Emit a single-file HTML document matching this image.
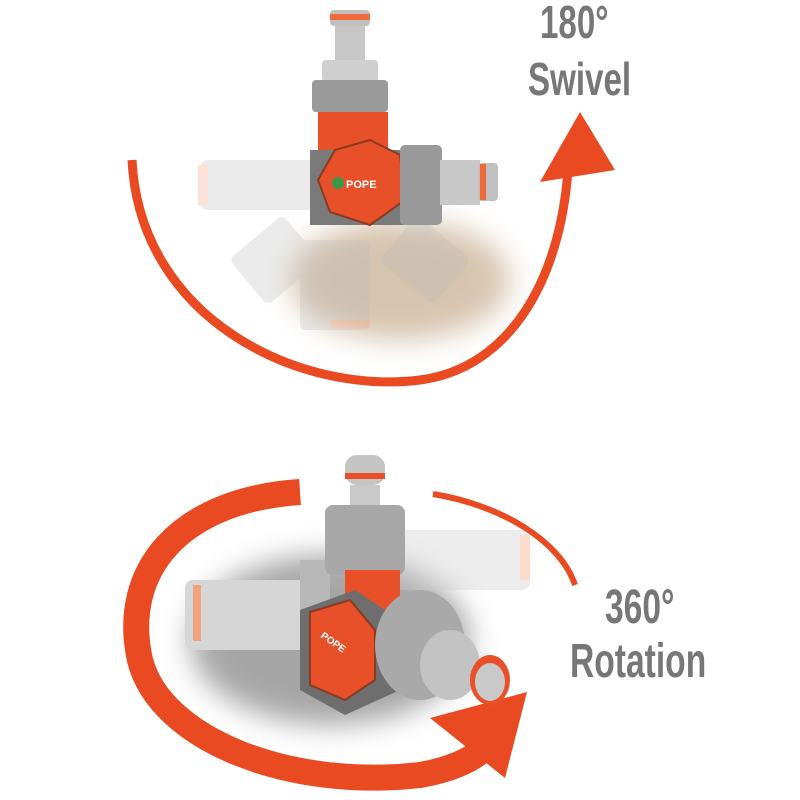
<!DOCTYPE html>
<html><head><style>
body{margin:0;background:#fff;}
svg{display:block}
text{font-family:"Liberation Sans",sans-serif;fill:#777;}
</style></head><body>
<svg width="800" height="800" viewBox="0 0 800 800">
<defs>
<filter id="b" x="-50%" y="-50%" width="200%" height="200%"><feGaussianBlur stdDeviation="14"/></filter>
</defs>
<rect width="800" height="800" fill="#fff"/>
<!-- TOP -->
<text x="540" y="38" font-size="46" font-weight="bold" transform="scale(0.72,1)" transform-origin="540 38">180°</text>
<text x="528" y="95" font-size="46" font-weight="bold" transform="scale(0.72,1)" transform-origin="528 95">Swivel</text>
<path d="M132 160 C 140 320, 300 395, 420 380 C 510 368, 560 280, 568 170" fill="none" stroke="#ea4a22" stroke-width="9"/>
<polygon points="580,112 615,170 540,182" fill="#ea4a22"/>
<ellipse cx="400" cy="280" rx="110" ry="60" fill="#b08a60" opacity="0.5" filter="url(#b)"/>
<g opacity="0.28" fill="#bbb">
<rect x="200" y="160" width="120" height="50" rx="8"/>
<rect x="300" y="240" width="70" height="90" rx="6"/>
<rect x="240" y="230" width="70" height="60" rx="6" transform="rotate(-40 275 260)"/>
<rect x="390" y="230" width="70" height="60" rx="6" transform="rotate(40 425 260)"/>
<rect x="198" y="165" width="10" height="40" fill="#f59a70"/>
<rect x="330" y="320" width="40" height="8" fill="#f59a70"/>
</g>
<rect x="330" y="10" width="40" height="16" rx="4" fill="#bfbfbf"/>
<rect x="330" y="14" width="40" height="6" fill="#ef6a3a"/>
<rect x="335" y="26" width="30" height="40" fill="#c7c7c7"/>
<rect x="322" y="60" width="56" height="22" rx="4" fill="#cfcfcf"/>
<rect x="312" y="80" width="76" height="32" rx="4" fill="#9a9a9a"/>
<rect x="318" y="112" width="70" height="50" fill="#e8502a"/>
<rect x="310" y="150" width="110" height="75" fill="#7a7a7a"/>
<polygon points="335,150 370,140 400,155 405,200 370,225 330,212 318,180" fill="#e8502a" stroke="#8a3a20" stroke-width="2"/>
<circle cx="338" cy="183" r="6" fill="#3a9a4a"/>
<text x="346" y="188" font-size="11" font-weight="bold" style="fill:#fff">POPE</text>
<rect x="400" y="145" width="42" height="80" rx="5" fill="#999"/>
<rect x="440" y="160" width="40" height="45" fill="#c8c8c8"/>
<rect x="478" y="163" width="20" height="38" rx="4" fill="#c0c0c0"/>
<rect x="480" y="164" width="6" height="36" fill="#ef6a3a"/>
<!-- BOTTOM -->
<ellipse cx="330" cy="640" rx="140" ry="85" fill="#888" opacity="0.75" filter="url(#b)"/>
<path d="M300 492 C 180 500, 120 570, 140 660 C 160 740, 290 790, 420 775 C 450 770, 470 760, 480 752" fill="none" stroke="#ea4a22" stroke-width="26"/>
<path d="M433 494 C 500 505, 560 540, 575 585" fill="none" stroke="#ea4a22" stroke-width="6"/>
<polygon points="527,692 430,718 505,778" fill="#ea4a22"/>
<g opacity="0.35" fill="#ccc"><rect x="380" y="530" width="150" height="60" rx="8"/><rect x="520" y="535" width="10" height="45" fill="#f59a70"/></g>
<rect x="185" y="580" width="130" height="70" rx="8" fill="#d6d6d6"/>
<rect x="193" y="585" width="8" height="56" fill="#f2a27c"/>
<rect x="300" y="560" width="30" height="100" fill="#b8b8b8"/>
<rect x="345" y="455" width="40" height="30" rx="12" fill="#c5c5c5"/>
<rect x="345" y="473" width="40" height="6" fill="#e8502a"/>
<rect x="350" y="485" width="30" height="35" fill="#c9c9c9"/>
<rect x="325" y="505" width="80" height="70" rx="8" fill="#a7a7a7"/>
<rect x="345" y="570" width="55" height="40" fill="#e8502a"/>
<polygon points="300,610 355,590 400,620 400,690 345,715 300,690" fill="#6e6e6e"/>
<polygon points="310,612 350,600 375,630 375,680 345,700 310,685" fill="#e8502a" stroke="#8a3a20" stroke-width="2"/>
<text x="320" y="637" font-size="10" font-weight="bold" style="fill:#fff" transform="rotate(35 320 637)">POPE</text>
<ellipse cx="420" cy="645" rx="45" ry="55" fill="#a9a9a9"/>
<ellipse cx="450" cy="665" rx="30" ry="35" fill="#c3c3c3"/>
<ellipse cx="490" cy="680" rx="20" ry="25" fill="#e8502a"/>
<ellipse cx="490" cy="682" rx="15" ry="19" fill="#c9c9c9"/>
<text x="605" y="623" font-size="48" font-weight="bold" transform="scale(0.7,1)" transform-origin="605 623">360°</text>
<text x="570" y="677" font-size="48" font-weight="bold" transform="scale(0.7,1)" transform-origin="570 677">Rotation</text>
</svg>
</body></html>
